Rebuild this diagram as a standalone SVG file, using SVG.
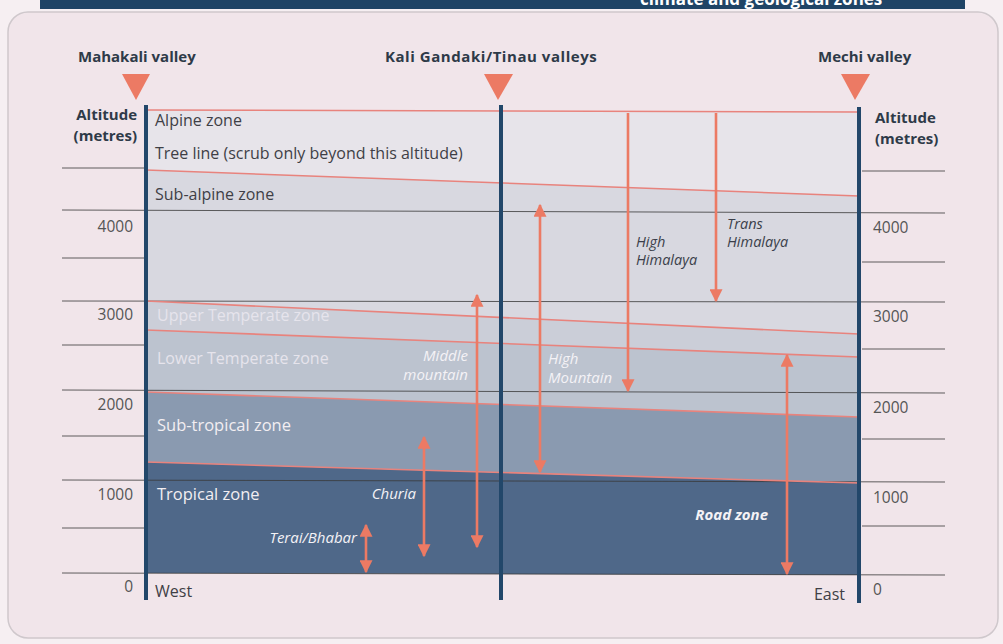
<svg xmlns="http://www.w3.org/2000/svg" width="1003" height="644" viewBox="0 0 1003 644">
<defs>
<marker id="ah" viewBox="0 0 10 10" refX="9" refY="5" markerWidth="5" markerHeight="5" orient="auto-start-reverse" markerUnits="strokeWidth">
<path d="M0,0 L10,5 L0,10 z" fill="#ec7a64"/>
</marker>
<style>
.hdr{font-family:"Open Sans","Noto Sans",sans-serif;font-weight:bold;font-size:15px;fill:#2e3a48}
.alt{font-family:"Open Sans","Noto Sans",sans-serif;font-weight:bold;font-size:15px;fill:#2e3a48}
.num{font-family:"Open Sans","Noto Sans",sans-serif;font-size:15.5px;fill:#555}
.zd{font-family:"Open Sans","Noto Sans",sans-serif;font-size:16px;fill:#3f3f46}
.zl{font-family:"Open Sans","Noto Sans",sans-serif;font-size:16.5px;fill:#f2eef2}
.zf{font-family:"Open Sans","Noto Sans",sans-serif;font-size:16px;fill:#e6e4ec}
.it{font-family:"Open Sans","Noto Sans",sans-serif;font-style:italic;font-size:15px;fill:#f4f2f6}
.itd{font-family:"Open Sans","Noto Sans",sans-serif;font-style:italic;font-size:14.5px;fill:#3b3f4a}
.axis{stroke:#22476a;stroke-width:4}
.grid{stroke:#3a3a3a;stroke-width:1;opacity:0.8}
.pk{stroke:#e8837d;stroke-width:1.6;fill:none}
.arr{stroke:#ec7a64;stroke-width:2.6;fill:none}
.tri{fill:#ec7a64}
</style>
</defs>
<rect x="0" y="0" width="1003" height="644" fill="#f6eff2"/>
<rect x="40" y="0" width="925" height="9" fill="#1f4466"/>
<text x="640" y="5" font-family="Open Sans, Noto Sans, sans-serif" font-weight="bold" font-size="17" fill="#ffffff">climate and geological zones</text>
<rect x="8" y="12" width="990" height="626" rx="20" ry="20" fill="#f1e5ea" stroke="#cfc8cc" stroke-width="1.5"/>

<g id="bands">
<polygon points="146,110 859,112 859,196 146,170" fill="#e7e4ea"/>
<polygon points="146,170 859,196 859,334 146,301" fill="#d8d8e0"/>
<polygon points="146,301 859,334 859,357 146,330" fill="#cbced8"/>
<polygon points="146,330 859,357 859,417 146,392" fill="#bcc3cf"/>
<polygon points="146,392 859,417 859,483 146,462" fill="#8a9ab0"/>
<polygon points="146,462 859,483 859,575 146,573" fill="#4f6889"/>
</g>

<g id="gridlines">
<line class="grid" x1="62" y1="168" x2="146" y2="168"/>
<line class="grid" x1="62" y1="210" x2="945" y2="213"/>
<line class="grid" x1="62" y1="258" x2="146" y2="258"/>
<line class="grid" x1="62" y1="301" x2="945" y2="302"/>
<line class="grid" x1="62" y1="345" x2="146" y2="345"/>
<line class="grid" x1="62" y1="390" x2="945" y2="393"/>
<line class="grid" x1="62" y1="436" x2="146" y2="436"/>
<line class="grid" x1="62" y1="480" x2="945" y2="482"/>
<line class="grid" x1="62" y1="528" x2="146" y2="528"/>
<line class="grid" x1="62" y1="573" x2="945" y2="575"/>
<line class="grid" x1="862" y1="171" x2="945" y2="171"/>
<line class="grid" x1="862" y1="262" x2="945" y2="262"/>
<line class="grid" x1="862" y1="349" x2="945" y2="349"/>
<line class="grid" x1="862" y1="439" x2="945" y2="439"/>
<line class="grid" x1="862" y1="526" x2="945" y2="526"/>
</g>

<g id="zone-lines">
<line class="pk" x1="146" y1="110" x2="859" y2="112"/>
<line class="pk" x1="146" y1="170" x2="859" y2="196"/>
<line class="pk" x1="146" y1="301" x2="859" y2="334"/>
<line class="pk" x1="146" y1="330" x2="859" y2="357"/>
<line class="pk" x1="146" y1="392" x2="859" y2="417"/>
<line class="pk" x1="146" y1="462" x2="859" y2="483"/>
</g>

<g id="axes">
<line class="axis" x1="146" y1="105" x2="146" y2="600"/>
<line class="axis" x1="501" y1="105" x2="501" y2="600"/>
<line class="axis" x1="859" y1="107" x2="859" y2="603"/>
</g>

<g id="valley-mahakali">
<text class="hdr" x="78" y="62">Mahakali valley</text>
<polygon class="tri" points="122,74 150,74 136,100"/>
</g>
<g id="valley-kali-gandaki">
<text class="hdr" x="385" y="62" font-size="16.5" letter-spacing="0.55">Kali Gandaki/Tinau valleys</text>
<polygon class="tri" points="484,74 513,74 498,100"/>
</g>
<g id="valley-mechi">
<text class="hdr" x="818" y="62">Mechi valley</text>
<polygon class="tri" points="841,74 870,74 855,100"/>
</g>

<g id="altitude-left">
<text class="alt" x="137" y="120" text-anchor="end">Altitude</text>
<text class="alt" x="137" y="141" text-anchor="end">(metres)</text>
<text class="num" x="133" y="232" text-anchor="end">4000</text>
<text class="num" x="133" y="320" text-anchor="end">3000</text>
<text class="num" x="133" y="410" text-anchor="end">2000</text>
<text class="num" x="133" y="500" text-anchor="end">1000</text>
<text class="num" x="133" y="592" text-anchor="end">0</text>
</g>
<g id="altitude-right">
<text class="alt" x="875" y="123">Altitude</text>
<text class="alt" x="875" y="144">(metres)</text>
<text class="num" x="873" y="233">4000</text>
<text class="num" x="873" y="322">3000</text>
<text class="num" x="873" y="413">2000</text>
<text class="num" x="873" y="503">1000</text>
<text class="num" x="873" y="595">0</text>
</g>

<g id="zones">
<text class="zd" x="155" y="126">Alpine zone</text>
<text class="zd" x="155" y="159">Tree line (scrub only beyond this altitude)</text>
<text class="zd" x="155" y="200">Sub-alpine zone</text>
<text class="zf" x="157" y="321">Upper Temperate zone</text>
<text class="zf" x="157" y="364">Lower Temperate zone</text>
<text class="zl" x="157" y="431">Sub-tropical zone</text>
<text class="zl" x="157" y="500">Tropical zone</text>
<text class="zd" x="155" y="597" font-size="14.5">West</text>
<text class="zd" x="845" y="600" text-anchor="end" font-size="14.5">East</text>
</g>

<g id="connectors">
<line class="arr" x1="366" y1="539" x2="366" y2="525" marker-end="url(#ah)"/>
<line class="arr" x1="366" y1="539" x2="366" y2="572" marker-end="url(#ah)"/>
<line class="arr" x1="424" y1="437" x2="424" y2="556" marker-start="url(#ah)" marker-end="url(#ah)"/>
<line class="arr" x1="477" y1="295" x2="477" y2="547" marker-start="url(#ah)" marker-end="url(#ah)"/>
<line class="arr" x1="540" y1="205" x2="540" y2="472" marker-start="url(#ah)" marker-end="url(#ah)"/>
<line class="arr" x1="628" y1="113" x2="628" y2="391" marker-end="url(#ah)"/>
<line class="arr" x1="716" y1="113" x2="716" y2="301" marker-end="url(#ah)"/>
<line class="arr" x1="787" y1="355" x2="787" y2="574" marker-start="url(#ah)" marker-end="url(#ah)"/>
</g>

<g id="region-labels">
<text class="it" x="357" y="543" text-anchor="end" font-size="16">Terai/Bhabar</text>
<text class="it" x="416" y="499" text-anchor="end">Churia</text>
<text class="it" x="468" y="361" text-anchor="end" fill="#eeeaf0" font-size="14.5">Middle</text>
<text class="it" x="468" y="380" text-anchor="end" fill="#eeeaf0" font-size="14.5">mountain</text>
<text class="it" x="548" y="364">High</text>
<text class="it" x="548" y="383">Mountain</text>
<text class="itd" x="636" y="247">High</text>
<text class="itd" x="636" y="265">Himalaya</text>
<text class="itd" x="727" y="229">Trans</text>
<text class="itd" x="727" y="247">Himalaya</text>
<text class="it" x="768" y="520" text-anchor="end" font-weight="bold">Road zone</text>
</g>
</svg>
